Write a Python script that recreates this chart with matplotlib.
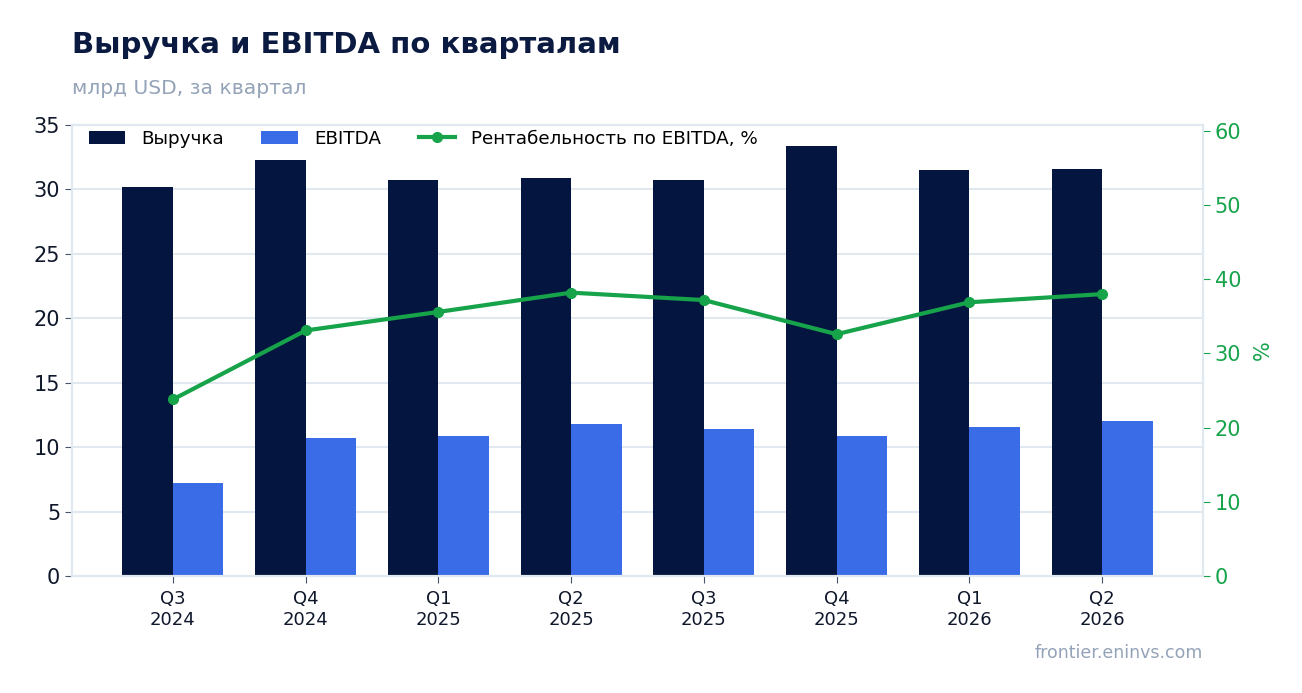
import matplotlib.pyplot as plt
import numpy as np

quarters = ['Q3\n2024', 'Q4\n2024', 'Q1\n2025', 'Q2\n2025',
            'Q3\n2025', 'Q4\n2025', 'Q1\n2026', 'Q2\n2026']
revenue = [30.2, 32.3, 30.7, 30.9, 30.7, 33.4, 31.5, 31.6]
ebitda = [7.2, 10.7, 10.9, 11.8, 11.4, 10.9, 11.6, 12.0]
margin = [23.8, 33.1, 35.6, 38.2, 37.2, 32.6, 36.9, 38.0]

navy = '#04163F'
blue = '#3A6CE8'
green = '#16A34A'
grid_c = '#E2E8F0'
grey = '#94A3B8'
text_c = '#0F172A'

fig = plt.figure(figsize=(13.02, 6.93), dpi=100)
ax = fig.add_axes([72 / 1302, 1 - 576 / 693, (1203 - 72) / 1302, (576 - 125) / 693])

x = np.arange(len(quarters))
w = 0.38
ax.bar(x - w / 2, revenue, w, color=navy, label='Выручка', zorder=2)
ax.bar(x + w / 2, ebitda, w, color=blue, label='EBITDA', zorder=2)
ax.set_xlim(-0.76, len(quarters) - 0.24)
ax.set_ylim(0, 35)
ax.set_yticks(range(0, 36, 5))
ax.set_xticks(x)
ax.set_xticklabels(quarters, fontsize=13, color=text_c)
ax.tick_params(axis='y', labelsize=15, colors='#475569', labelcolor=text_c, length=5)
ax.tick_params(axis='x', colors='#475569', labelcolor=text_c, length=5, pad=5)
ax.grid(axis='y', color=grid_c, linewidth=1.5, zorder=0)
ax.set_axisbelow(True)
for s in ax.spines.values():
    s.set_color(grid_c)
    s.set_linewidth(1.5)

ax2 = ax.twinx()
ax2.plot(x, margin, color=green, linewidth=3, marker='o', markersize=7,
         label='Рентабельность по EBITDA, %', zorder=3)
ax2.set_ylim(0, 60.8)
ax2.set_yticks(range(0, 61, 10))
ax2.tick_params(axis='y', labelsize=15, colors=green, length=5)
ax2.set_ylabel('%', color=green, fontsize=15, labelpad=8)
for s in ax2.spines.values():
    s.set_color(grid_c)
    s.set_linewidth(1.5)

h1, l1 = ax.get_legend_handles_labels()
h2, l2 = ax2.get_legend_handles_labels()
ax.legend(h1 + h2, l1 + l2, loc='upper left', ncol=3, frameon=False,
          fontsize=13.2, bbox_to_anchor=(0.0, 1.026), handlelength=2.0,
          columnspacing=2.05, handletextpad=0.87)

fig.text(72 / 1302, 1 - 53 / 693, 'Выручка и EBITDA по кварталам',
         fontsize=21, fontweight='bold', color='#0B1A40')
fig.text(72 / 1302, 1 - 94 / 693, 'млрд USD, за квартал', fontsize=14.6, color=grey)
fig.text(1203 / 1302, 1 - 658 / 693, 'frontier.eninvs.com', fontsize=12.5,
         color=grey, ha='right')

fig.savefig('out.png', dpi=100)
